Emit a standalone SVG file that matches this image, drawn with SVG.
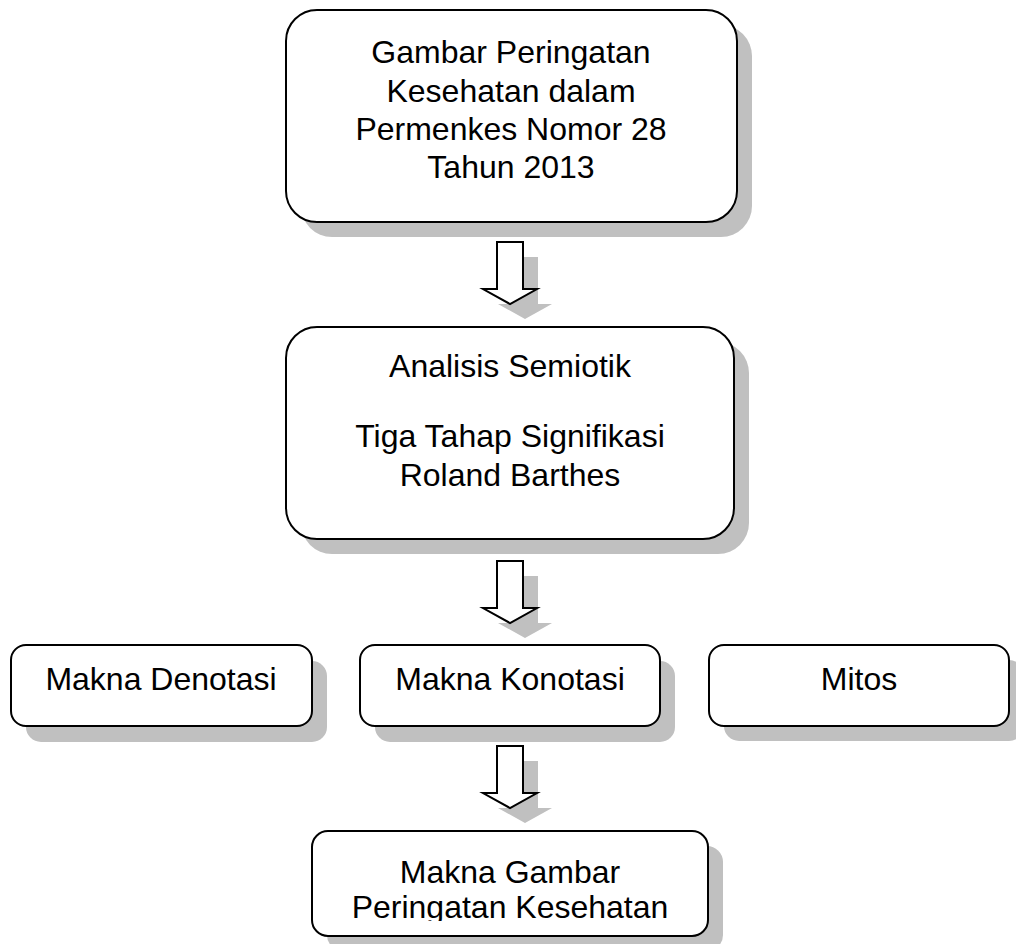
<svg xmlns="http://www.w3.org/2000/svg" width="1016" height="944" viewBox="0 0 1016 944">
<style>
.box{fill:#fff;stroke:#000;stroke-width:2}
.sh{fill:#c0c0c0;stroke:none}
.arr{fill:#fff;stroke:#000;stroke-width:2;stroke-linejoin:miter}
text{font-family:"Liberation Sans",Arial,sans-serif;font-size:32px;fill:#000;text-anchor:middle}
</style>
<defs>
<path id="arrowShape" d="M-13,0 H13 V47 H27 L0,62 L-27,47 H-13 Z"/>
<clipPath id="clipB4"><rect x="312" y="831" width="396" height="90"/></clipPath>
</defs>
<g id="connectors">
<g transform="translate(510,242)">
<use href="#arrowShape" class="sh" transform="translate(15,15)"/>
<use href="#arrowShape" class="arr"/>
</g>
<g transform="translate(510,561)">
<use href="#arrowShape" class="sh" transform="translate(15,15)"/>
<use href="#arrowShape" class="arr"/>
</g>
<g transform="translate(510,746)">
<use href="#arrowShape" class="sh" transform="translate(15,15)"/>
<use href="#arrowShape" class="arr"/>
</g>
</g>
<g id="node-gambar">
<rect class="sh" x="301" y="25" width="451" height="212" rx="31"/>
<rect class="box" x="286" y="10" width="451" height="212" rx="31"/>
<text x="511" y="63">Gambar Peringatan</text>
<text x="511" y="102">Kesehatan dalam</text>
<text x="511" y="140">Permenkes Nomor 28</text>
<text x="511" y="178">Tahun 2013</text>
</g>
<g id="node-analisis">
<rect class="sh" x="301" y="342" width="448" height="212" rx="31"/>
<rect class="box" x="286" y="327" width="448" height="212" rx="31"/>
<text x="510" y="377">Analisis Semiotik</text>
<text x="510" y="447">Tiga Tahap Signifikasi</text>
<text x="510" y="486">Roland Barthes</text>
</g>
<g id="node-denotasi">
<rect class="sh" x="26" y="661" width="301" height="81" rx="15"/>
<rect class="box" x="11" y="645" width="301" height="81" rx="15"/>
<text x="161" y="690">Makna Denotasi</text>
</g>
<g id="node-konotasi">
<rect class="sh" x="375" y="661" width="300" height="81" rx="15"/>
<rect class="box" x="360" y="645" width="300" height="81" rx="15"/>
<text x="510" y="690">Makna Konotasi</text>
</g>
<g id="node-mitos">
<rect class="sh" x="724" y="660" width="300" height="81" rx="15"/>
<rect class="box" x="709" y="645" width="300" height="81" rx="15"/>
<text x="859" y="690">Mitos</text>
</g>
<g id="node-makna-gambar">
<rect class="sh" x="327" y="846" width="396" height="105" rx="16"/>
<rect class="box" x="312" y="831" width="396" height="105" rx="16"/>
<text x="510" y="883">Makna Gambar</text>
<text x="510" y="918" clip-path="url(#clipB4)">Peringatan Kesehatan</text>
</g>
</svg>
